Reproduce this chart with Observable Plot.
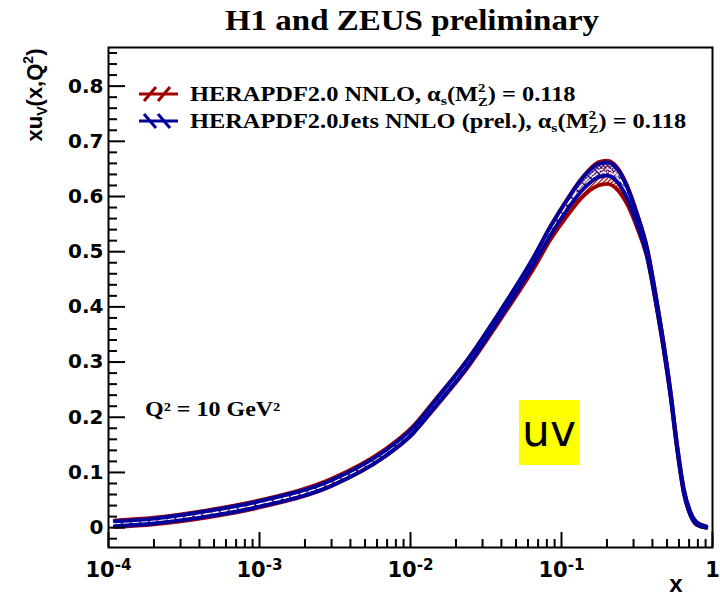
<!DOCTYPE html>
<html>
<head>
<meta charset="utf-8">
<script src="https://cdn.jsdelivr.net/npm/d3@7"></script>
<script src="https://cdn.jsdelivr.net/npm/@observablehq/plot@0.6"></script>
<style>
  body { margin: 0; background: #fff; }
  #wrap { width: 720px; height: 598px; overflow: hidden; background: #fff; }
</style>
</head>
<body>
<div id="wrap"></div>
<script>
// x grid and xu_v(x, Q^2 = 10 GeV^2) for the two fits: central value and half-width of the band
const xValues = [1.1e-4, 2e-4, 5e-4, 1e-3, 3e-3, 6.6e-3, 0.0103, 0.0143, 0.0237, 0.0394, 0.0656, 0.0846, 0.109, 0.141, 0.175, 0.2, 0.235, 0.272, 0.316, 0.369, 0.43, 0.475, 0.527, 0.583, 0.645, 0.715, 0.79, 0.91];

const herapdfMid = [0.007, 0.012, 0.027, 0.043, 0.082, 0.133, 0.176, 0.222, 0.296, 0.385, 0.480, 0.534, 0.580, 0.620, 0.641, 0.644, 0.632, 0.603, 0.557, 0.498, 0.400, 0.328, 0.243, 0.146, 0.067, 0.025, 0.007, 0.001];
const herapdfErr = [0.006, 0.006, 0.0065, 0.0065, 0.0065, 0.0065, 0.0065, 0.007, 0.0075, 0.008, 0.010, 0.012, 0.015, 0.018, 0.021, 0.021, 0.020, 0.017, 0.013, 0.009, 0.007, 0.006, 0.005, 0.0045, 0.004, 0.003, 0.0025, 0.0015];

const jetsMid = [0.007, 0.012, 0.027, 0.043, 0.081, 0.132, 0.175, 0.222, 0.297, 0.387, 0.484, 0.538, 0.585, 0.626, 0.647, 0.650, 0.638, 0.607, 0.559, 0.498, 0.400, 0.328, 0.243, 0.146, 0.067, 0.025, 0.007, 0.001];
const jetsErr = [0.0045, 0.0045, 0.005, 0.005, 0.005, 0.005, 0.005, 0.0055, 0.006, 0.006, 0.007, 0.008, 0.009, 0.011, 0.012, 0.012, 0.012, 0.010, 0.009, 0.007, 0.0055, 0.0045, 0.004, 0.0035, 0.003, 0.0025, 0.002, 0.001];

// axis ticks
const xDecades = [1e-4, 1e-3, 1e-2, 1e-1, 1];
const xDecadeLabels = ["10^-4", "10^-3", "10^-2", "10^-1", "1"];
const yMajorTicks = [0, 0.1, 0.2, 0.3, 0.4, 0.5, 0.6, 0.7, 0.8];
const yTickLabels = ["0", "0.1", "0.2", "0.3", "0.4", "0.5", "0.6", "0.7", "0.8"];

// text
const titleText = "H1 and ZEUS preliminary";
const seriesNames = ["HERAPDF2.0 NNLO, ", "HERAPDF2.0Jets NNLO (prel.), "];
const alphaValue = "0.118";
const scaleText = "Q² = 10 GeV²";
const flavourTag = "uv";

const RED = "#a00000";
const BLUE = "#00009c";

const xMinorTicks = xDecades.slice(0, -1).flatMap(d => d3.range(2, 10).map(k => k * d));
const yMinorTicks = d3.range(-1, 44).map(k => k * 0.02).filter((v, i) => (i - 1) % 5 !== 0);

const rows = xValues.map((x, i) => ({
  x,
  hLo: herapdfMid[i] - herapdfErr[i], hHi: herapdfMid[i] + herapdfErr[i], hMid: herapdfMid[i],
  jLo: jetsMid[i] - jetsErr[i], jHi: jetsMid[i] + jetsErr[i], jMid: jetsMid[i]
}));

const curve = "monotone-x";
const font = {fontFamily: "DejaVu Sans", fontWeight: "bold"};
const edge = 3.8;

const chart = Plot.plot({
  width: 720,
  height: 598,
  marginLeft: 108,
  marginRight: 8,
  marginTop: 47,
  marginBottom: 51,
  style: {background: "#fff", overflow: "visible", color: "#000"},
  x: {type: "log", domain: [1e-4, 1]},
  y: {domain: [-0.036, 0.87]},
  marks: [
    // hatched bands
    Plot.areaY(rows, {x: "x", y1: "hLo", y2: "hHi", fill: "url(#hatch-red)", curve}),
    Plot.areaY(rows, {x: "x", y1: "jLo", y2: "jHi", fill: "url(#hatch-blue)", curve}),
    // central values
    Plot.line(rows, {x: "x", y: "hMid", stroke: "#fff", strokeWidth: 1.4, strokeDasharray: "5,4", curve}),
    Plot.line(rows, {x: "x", y: "jMid", stroke: "#fff", strokeWidth: 1.4, strokeDasharray: "5,4", curve}),
    // band edges
    Plot.line(rows, {x: "x", y: "hLo", stroke: RED, strokeWidth: edge, curve}),
    Plot.line(rows, {x: "x", y: "hHi", stroke: RED, strokeWidth: edge, curve}),
    Plot.line(rows, {x: "x", y: "jLo", stroke: BLUE, strokeWidth: edge, curve}),
    Plot.line(rows, {x: "x", y: "jHi", stroke: BLUE, strokeWidth: edge, curve}),
    Plot.frame({stroke: "#000", strokeWidth: 2}),
    // inward ticks
    Plot.axisY(yMajorTicks, {tickSize: -17, strokeWidth: 2, fill: "none", label: null}),
    Plot.axisY(yMinorTicks, {tickSize: -9, strokeWidth: 2, fill: "none", label: null}),
    Plot.axisX(xDecades, {tickSize: -15, strokeWidth: 2, fill: "none", label: null}),
    Plot.axisX(xMinorTicks, {tickSize: -8, strokeWidth: 2, fill: "none", label: null}),
    // tick labels
    Plot.axisY(yMajorTicks, {tickSize: 0, tickPadding: 5, fontSize: 20, ...font, label: null,
      tickFormat: v => yTickLabels[yMajorTicks.indexOf(v)]}),
    Plot.axisX(xDecades, {tickSize: 0, tickPadding: 15, fontSize: 21, ...font, label: null,
      tickFormat: v => xDecadeLabels[xDecades.indexOf(v)]})
  ]
});

document.getElementById("wrap").appendChild(chart);

const NS = "http://www.w3.org/2000/svg";
function el(tag, attrs, parent) {
  const e = document.createElementNS(NS, tag);
  for (const k in attrs) e.setAttribute(k, attrs[k]);
  if (parent) parent.appendChild(e);
  return e;
}
function rich(parent, parts, attrs) {
  const t = el("text", {"text-anchor": "start", ...attrs}, parent);
  for (const p of parts) {
    const s = el("tspan", p.a || {}, t);
    s.textContent = p.t;
  }
  return t;
}

// hatch patterns for the bands
const defs = el("defs", {});
chart.insertBefore(defs, chart.firstChild);
function hatch(id, color, angle) {
  const p = el("pattern", {id, patternUnits: "userSpaceOnUse", width: 3, height: 3, patternTransform: `rotate(${angle})`}, defs);
  el("line", {x1: 0, y1: 0, x2: 0, y2: 3, stroke: color, "stroke-width": 2.5}, p);
}
hatch("hatch-red", RED, 45);
hatch("hatch-blue", BLUE, -45);

// powers of ten as superscripts on the x axis
chart.querySelectorAll('g[aria-label="x-axis tick label"] text').forEach(t => {
  const s = t.textContent;
  if (!s.startsWith("10^")) return;
  t.textContent = "";
  const a = el("tspan", {}, t); a.textContent = "10";
  const b = el("tspan", {dy: "-0.5em", "font-size": "0.72em"}, t); b.textContent = s.slice(3);
});

const ann = el("g", {"font-family": "Liberation Serif, Times New Roman, serif", "font-weight": "bold", fill: "#000"}, chart);

// title
const gt = el("g", {transform: "translate(412,30) scale(1.1,1)"}, ann);
rich(gt, [{t: titleText}], {x: 0, y: 0, "text-anchor": "middle", "font-size": 30});

// legend
const legendRows = [
  {y: 101, color: RED, name: seriesNames[0], dir: 1},
  {y: 128, color: BLUE, name: seriesNames[1], dir: -1}
];
for (const r of legendRows) {
  const cy = r.y - 7;
  el("line", {x1: 139, x2: 178, y1: cy, y2: cy, stroke: r.color, "stroke-width": 3}, ann);
  for (const off of [150, 164]) {
    el("line", {x1: off - 6 * r.dir, y1: cy + 7, x2: off + 6 * r.dir, y2: cy - 7, stroke: r.color, "stroke-width": 3}, ann);
  }
  const g = el("g", {transform: `translate(190,${r.y}) scale(1.22,1)`}, ann);
  rich(g, [
    {t: r.name + "α"},
    {t: "s", a: {"font-size": 13, dy: 4}},
    {t: "(M", a: {dy: -4}},
    {t: "2", a: {"font-size": 12, dy: -9}},
    {t: "Z", a: {"font-size": 12, dx: -6, dy: 14}},
    {t: ") = " + alphaValue, a: {dy: -5}}
  ], {x: 0, y: 0, "font-size": 20});
}

// scale of the PDF
const gq = el("g", {transform: "translate(145,416) scale(1.2,1)"}, ann);
rich(gq, [{t: scaleText}], {x: 0, y: 0, "font-size": 20});

// axis titles
const sans = el("g", {"font-family": "Liberation Sans, Arial, sans-serif", "font-weight": "bold", fill: "#000"}, chart);
rich(sans, [
  {t: "xu"},
  {t: "V", a: {"font-size": 14, dy: 5}},
  {t: "(x,Q", a: {dy: -5}},
  {t: "2", a: {"font-size": 14, dy: -9}},
  {t: ")", a: {dy: 9}}
], {transform: "translate(42,95) rotate(-90)", "text-anchor": "middle", "font-size": 22});
rich(sans, [{t: "x"}], {x: 676, y: 592, "text-anchor": "middle", "font-size": 24});

// flavour tag
el("rect", {x: 519, y: 400, width: 60, height: 65, fill: "#ffff00"}, chart);
rich(chart, [{t: flavourTag}], {x: 549, y: 446, "text-anchor": "middle", "font-family": "DejaVu Sans", "font-size": 44, fill: "#000"});
</script>
</body>
</html>
